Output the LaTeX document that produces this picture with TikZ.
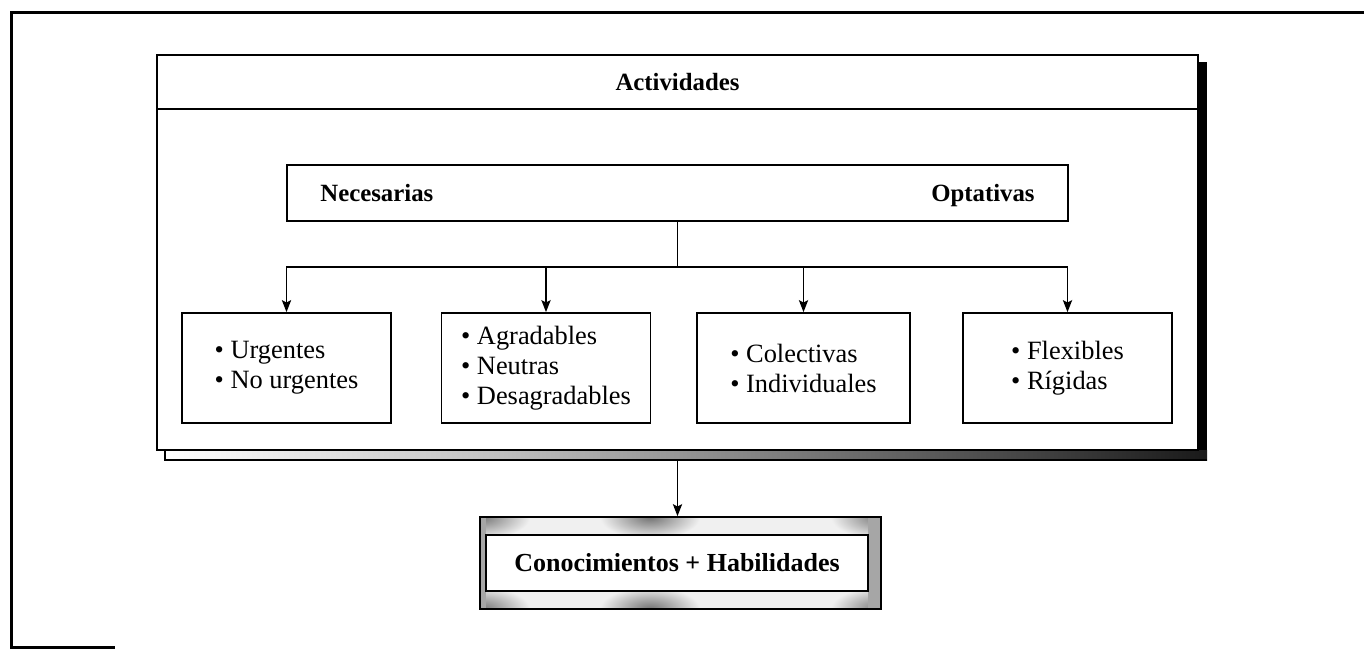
\documentclass[tikz,border=0pt]{standalone}
\usepackage{fontspec}
\setmainfont{Liberation Serif}
\usetikzlibrary{arrows.meta}
\begin{document}
\begin{tikzpicture}[x=0.5pt,y=-0.5pt,
  frame/.style={line width=1.5pt},
  boxline/.style={draw, line width=0.85pt},
  listbox/.style={boxline, minimum width=104.5pt, minimum height=55pt, inner sep=0pt, align=left, font=\fontsize{13.2}{15}\selectfont},
  head/.style={font=\fontsize{12.4}{14}\selectfont\bfseries, inner sep=0pt},
  arr/.style={-{Stealth[length=6pt,width=4.6pt,inset=1.2pt]}, line width=0.85pt}]
\useasboundingbox (0,0) rectangle (1364,648);
% outer frame
\draw[frame] (1364,12) -- (11,12) -- (11,647) -- (115,647);
% shadow of main box
\fill[black] (1198,62) rectangle (1207,460);
\shade[left color=white, right color=black!25] (165,450) rectangle (500,460);
\shade[left color=black!25, right color=black!90] (500,450) rectangle (1207,460);
\draw[line width=0.6pt] (165,450) -- (165,460) -- (1207,460);
% main box
\node[boxline, fill=white, minimum width=520.5pt, minimum height=197.5pt, inner sep=0pt] (main) at (677.5,252.5) {};
\draw[line width=0.85pt] (main.west |- 0,109) -- (main.east |- 0,109);
\node[head, anchor=base] (act) at (677.5,90) {Actividades};
% necesarias / optativas
\node[boxline, minimum width=390.5pt, minimum height=28pt, inner sep=0pt] (nec) at (677.5,193) {};
\node[head, anchor=base west] (necl) at (320,201) {Necesarias};
\node[head, anchor=base east] (opt) at (1035,201) {Optativas};
% list boxes
\node[listbox] (b1) at (286.5,368) {\textbullet\ Urgentes\\\textbullet\ No urgentes};
\node[listbox] (b2) at (546,368) {\textbullet\ Agradables\\\textbullet\ Neutras\\\textbullet\ Desagradables};
\node[listbox, minimum width=106.5pt] (b3) at (803.5,368) {\textbullet\ Colectivas\\\textbullet\ Individuales};
\node[listbox] (b4) at (1067.5,368) {\textbullet\ Flexibles\\\textbullet\ Rígidas};
% connectors
\coordinate (j) at (677.5,267);
\draw[line width=0.85pt] (nec.south) -- (j);
\foreach \b in {b1,b2,b3,b4} \draw[arr] (j) -| (\b.north);
% bottom box
\begin{scope}
\clip (480,517) rectangle (881,609);
\fill[black!6] (480,517) rectangle (881,609);
\foreach \cx/\cy in {480/517, 881/517, 480/609, 881/609, 650/517, 650/609}
  \shade[inner color=black!55, outer color=black!6] (\cx,\cy) ellipse [x radius=50, y radius=22];
\fill[black!35] (480,517) rectangle (486,609);
\fill[black!35] (868,517) rectangle (881,609);
\end{scope}
\node[boxline, minimum width=200.5pt, minimum height=46pt, inner sep=0pt] (knowout) at (680.5,563) {};
\node[boxline, fill=white, minimum width=191pt, minimum height=28pt, inner sep=0pt, font=\fontsize{13}{15}\selectfont\bfseries] (know) at (677,563) {Conocimientos + Habilidades};
\coordinate (shb) at (677.5,460);
\draw[arr] (shb) -- (shb |- knowout.north);
\end{tikzpicture}
\end{document}
